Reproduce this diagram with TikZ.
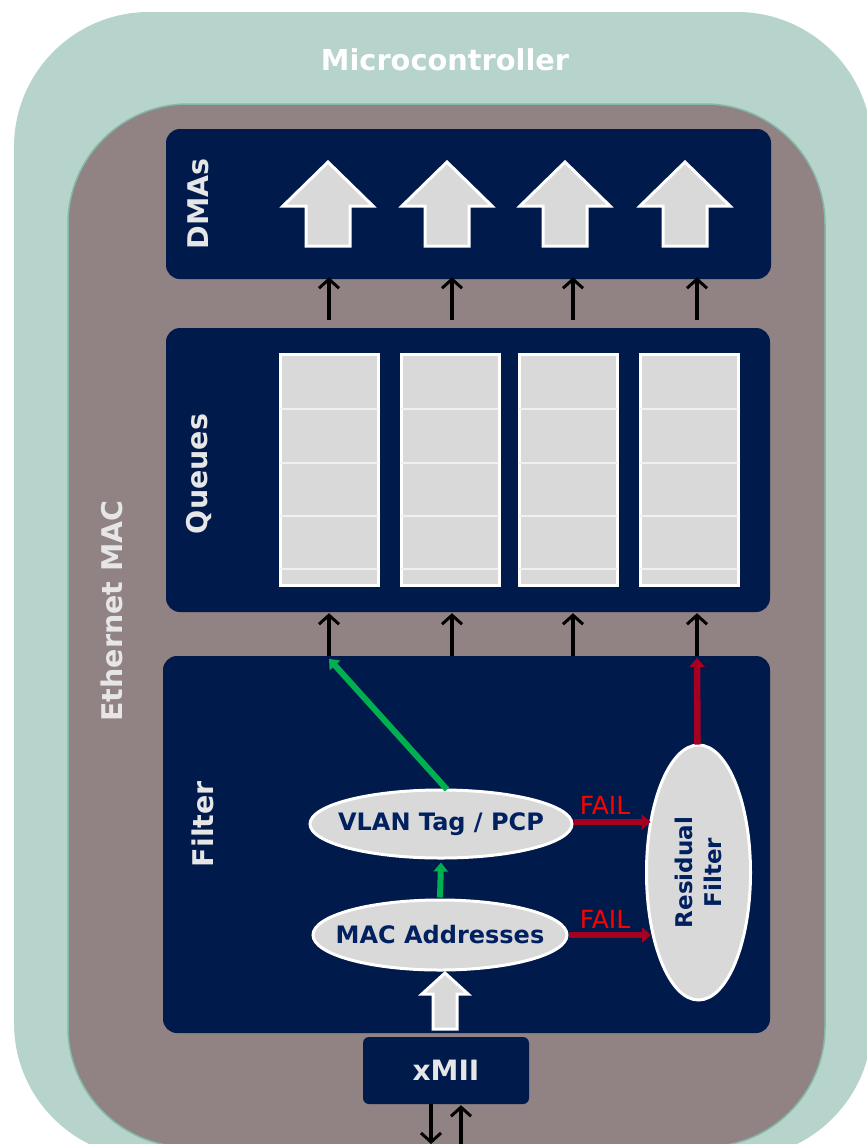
\documentclass[tikz,border=0pt]{standalone}
\usepackage{fontspec}
\setmainfont{DejaVu Sans}
\usetikzlibrary{shapes.geometric,arrows.meta,calc}

\definecolor{mcu}{HTML}{B6D3CC}
\definecolor{mac}{HTML}{918284}
\definecolor{macline}{HTML}{86B8A8}
\definecolor{navy}{HTML}{001A4C}
\definecolor{ink}{HTML}{002060}
\definecolor{cell}{HTML}{D9D9D9}
\definecolor{cellline}{HTML}{F0F0F0}
\definecolor{pass}{HTML}{00B050}
\definecolor{fail}{HTML}{A50021}
\definecolor{failtxt}{HTML}{FF0000}
\definecolor{lbl}{HTML}{E6E6E6}

\tikzset{
  block/.style={fill=navy, draw=none, rounded corners=14pt, inner sep=0pt},
  blocklabel/.style={text=lbl, font=\bfseries\fontsize{28.5}{34}\selectfont, rotate=90, inner sep=0pt},
  stage/.style={ellipse, fill=cell, draw=white, line width=3pt, inner sep=0pt},
  stagetext/.style={text=ink, font=\bfseries\fontsize{24}{29}\selectfont, inner sep=0pt, align=center},
  fatarrow/.style={fill=cell, draw=white, line width=3pt, line join=miter},
  queuecol/.style={fill=cell, draw=white, line width=3pt},
  link/.style={draw=black, line width=3.2pt, -{Straight Barb[length=9pt,width=20pt,line width=3pt]}},
  passlink/.style={draw=pass, line width=6pt, -{Triangle[length=9pt,width=14pt]}},
  faillink/.style={draw=fail, line width=6.5pt, -{Triangle[length=9pt,width=15pt]}},
  failtag/.style={text=failtxt, font=\fontsize{25}{28}\selectfont, inner sep=0pt},
}

\begin{document}
\begin{tikzpicture}[x=1pt,y=-1pt]
\useasboundingbox (0,0) rectangle (867,1144);
\clip (0,0) rectangle (867,1144);

% enclosing microcontroller and Ethernet MAC
\fill[mcu, rounded corners=135pt] (14,12) rectangle (872,1158);
\draw[fill=mac, draw=macline, line width=1.5pt, rounded corners=120pt] (68,104) rectangle (825,1147);

\node[text=white, font=\bfseries\fontsize{28.8}{34}\selectfont, inner sep=0pt] (mcutitle) at (445,60) {Microcontroller};
\node[blocklabel] (maclabel) at (112,611) {Ethernet MAC};

% the three stages and the interface block
\node[block, minimum width=605pt, minimum height=150pt] (dmas) at (468.5,204) {};
\node[block, minimum width=604pt, minimum height=284pt] (queues) at (468,470) {};
\node[block, minimum width=607pt, minimum height=377pt] (filter) at (466.5,844.5) {};
\node[block, rounded corners=6pt, minimum width=166pt, minimum height=67pt,
      text=lbl, font=\bfseries\fontsize{28}{32}\selectfont] (xmii) at (446,1070.5) {xMII};

\node[blocklabel] (dmaslabel) at (198,204) {DMAs};
\node[blocklabel] (queueslabel) at (199,474) {Queues};
\node[blocklabel] (filterlabel) at (203,824) {Filter};

% DMA channels
\foreach \cx in {328,447,565,685} {
  \draw[fatarrow] (\cx,162) -- (\cx+45,206) -- (\cx+22,206) -- (\cx+22,246)
        -- (\cx-22,246) -- (\cx-22,206) -- (\cx-45,206) -- cycle;
}

% queue columns with their slots
\foreach \xa/\xb in {280/378,401/499,519/617,640/738} {
  \draw[queuecol] (\xa,354) rectangle (\xb,585);
  \foreach \yy in {409,463,516,569}
    \draw[cellline, line width=1.8pt] (\xa,\yy) -- (\xb,\yy);
}

% lanes between the stages
\coordinate (lane1) at (329,0);
\coordinate (lane2) at (452,0);
\coordinate (lane3) at (573,0);
\coordinate (lane4) at (697,0);
\foreach \l in {1,2,3,4} {
  \draw[link] ($(lane\l |- queues.north)+(0,-8)$) -- ($(lane\l |- dmas.south)+(0,-2)$);
  \draw[link] (lane\l |- filter.north) -- ($(lane\l |- queues.south)+(0,1)$);
}

% filter stages
\node[stage, minimum width=262pt, minimum height=68pt] (vlan) at (441,824) {};
\node[stagetext] (vlantext) at (vlan.center) {VLAN Tag / PCP};
\node[stage, minimum width=254pt, minimum height=70pt] (macaddr) at (440,935) {};
\node[stagetext] (mactext) at (macaddr.center) {MAC Addresses};
\node[stage, minimum width=104pt, minimum height=255pt] (resid) at (698.5,872.5) {};
\node[stagetext, font=\bfseries\fontsize{23}{29}\selectfont, rotate=90] (residtext) at (resid.center) {Residual\\Filter};

% frames entering the filter
\draw[fatarrow] (445,973) -- (468,994) -- (457,994) -- (457,1029)
      -- (433,1029) -- (433,994) -- (422,994) -- cycle;

% pass paths
\coordinate (vlanout) at ($(vlan.north)+(6,1)$);
\draw[passlink] (vlanout) -- ($(lane1 |- filter.north)+(0,3)$);
\draw[passlink] ($(macaddr.north)+(0,-1)$) -- ($(vlan.south)+(0,3)$);

% fail paths into the residual filter
\draw[faillink] ($(vlan.east)+(0,-2)$) -- ($(vlan.east -| resid.133)+(1,-2)$);
\draw[faillink] (macaddr.east) -- ($(macaddr.east -| resid.234)+(-1,0)$);
\node[failtag] (fail1) at (605,805) {FAIL};
\node[failtag] (fail2) at (605,919) {FAIL};
\draw[faillink] ($(resid.north)+(-1,1)$) -- ($(lane4 |- filter.north)+(0,2)$);

% external interface lines
\coordinate (rxend) at (431,1144);
\coordinate (txstart) at (461,1160);
\draw[link] (xmii.south -| rxend) -- (rxend);
\draw[link] (txstart) -- ($(xmii.south -| txstart)+(0,1)$);
\end{tikzpicture}
\end{document}
